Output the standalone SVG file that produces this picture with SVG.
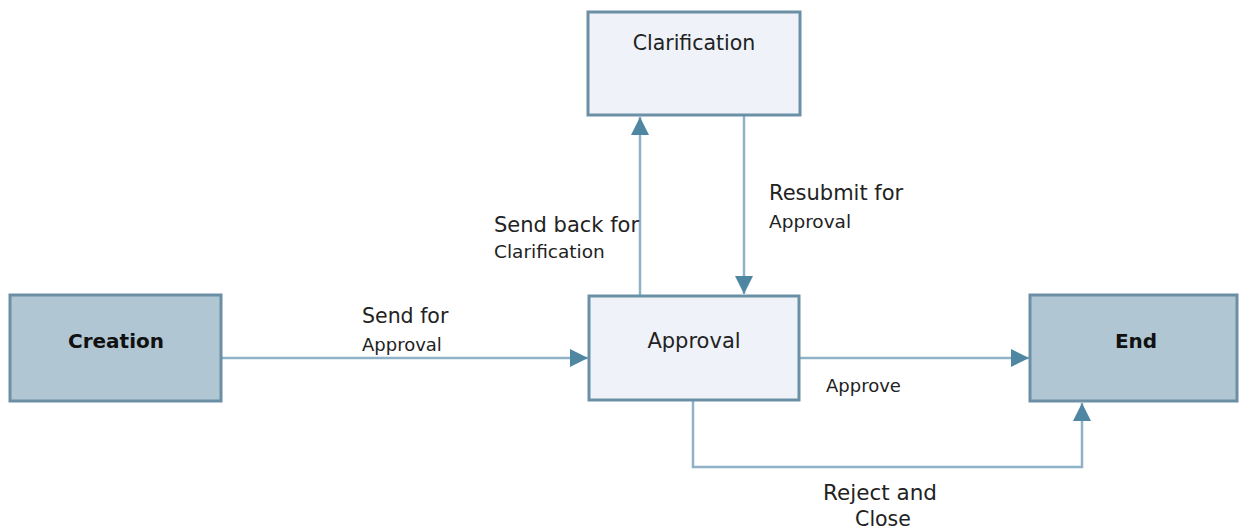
<svg xmlns="http://www.w3.org/2000/svg" width="1239" height="531" viewBox="0 0 1239 531">
<style>
.dark{fill:#b0c6d3;stroke:#6b90a6;stroke-width:3}
.light{fill:#eff3f9;stroke:#6b90a6;stroke-width:3}
.nt{font-family:"DejaVu Sans",Verdana,sans-serif;font-size:20px;fill:#222;text-anchor:middle}
.b{font-weight:bold;fill:#111}
.lbl{font-family:"DejaVu Sans",Verdana,sans-serif;fill:#222}
.c{fill:none;stroke:#8fb2c6;stroke-width:2.5}
</style>
<defs>
<marker id="ah" viewBox="0 0 10 10" refX="10" refY="5" markerWidth="19" markerHeight="18" markerUnits="userSpaceOnUse" orient="auto">
<path d="M0,0 L10,5 L0,10 Z" fill="#4f87a3"/>
</marker>
</defs>
<rect width="1239" height="531" fill="#ffffff"/>
<g id="connectors">
<path class="c" d="M221,358 L588,358" marker-end="url(#ah)"/>
<path class="c" d="M640,296 L640,117" marker-end="url(#ah)"/>
<path class="c" d="M744,115 L744,294" marker-end="url(#ah)"/>
<path class="c" d="M799,358 L1029,358" marker-end="url(#ah)"/>
<path class="c" d="M693,400 L693,467 L1082,467 L1082,403" marker-end="url(#ah)"/>
</g>
<g id="creation">
<rect class="dark" x="10" y="295" width="211" height="106"/>
<text class="nt b" x="116" y="348">Creation</text>
</g>
<g id="clarification">
<rect class="light" x="588" y="12" width="212" height="103"/>
<text class="nt" x="694" y="50" style="font-size:20.5px">Clarification</text>
</g>
<g id="approval">
<rect class="light" x="589" y="296" width="210" height="104"/>
<text class="nt" x="694" y="348" style="font-size:21px">Approval</text>
</g>
<g id="end">
<rect class="dark" x="1030" y="295" width="207" height="106"/>
<text class="nt b" x="1136" y="348">End</text>
</g>
<g id="labels">
<text class="lbl" x="362" y="323" font-size="20.5">Send for</text>
<text class="lbl" x="362" y="351" font-size="18">Approval</text>
<text class="lbl" x="494" y="232" font-size="21">Send back for</text>
<text class="lbl" x="494" y="258" font-size="18.5">Clarification</text>
<text class="lbl" x="769" y="200" font-size="21">Resubmit for</text>
<text class="lbl" x="769" y="228" font-size="18.5">Approval</text>
<text class="lbl" x="826" y="392" font-size="18">Approve</text>
<text class="lbl" x="880" y="500" font-size="21.5" text-anchor="middle">Reject and</text>
<text class="lbl" x="883" y="526" font-size="20.5" text-anchor="middle">Close</text>
</g>
</svg>
